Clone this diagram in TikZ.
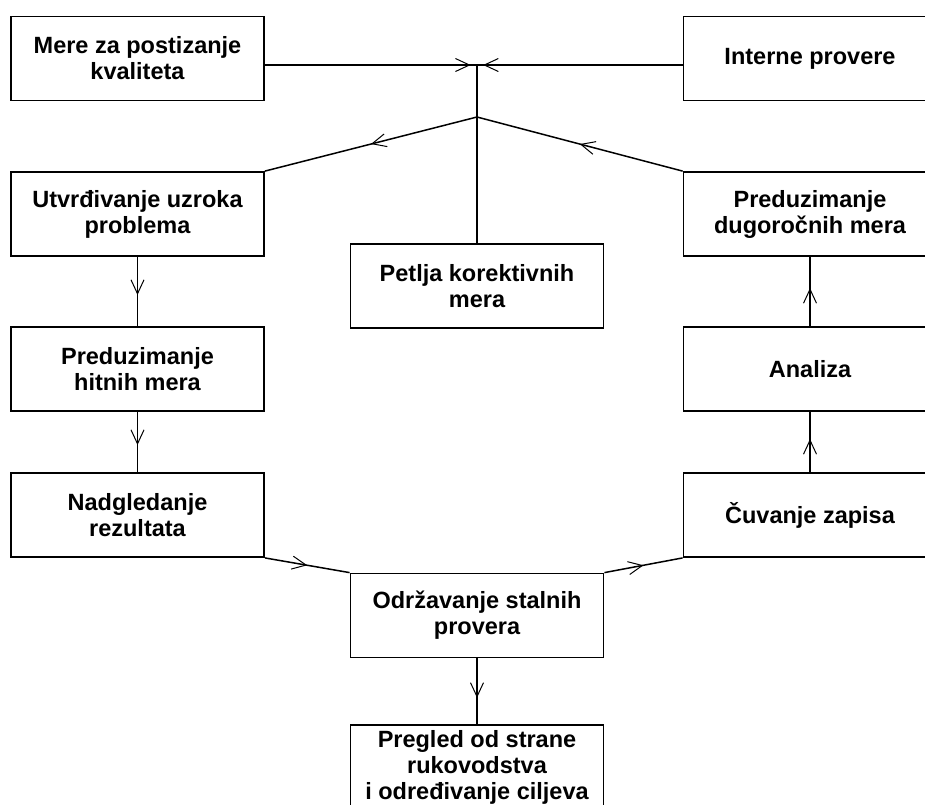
\documentclass[tikz,border=0pt]{standalone}
\usepackage{fontspec}
\setmainfont{Liberation Sans}
\usetikzlibrary{arrows.meta,decorations.markings}

\tikzset{
  box/.style={draw, line width=1.8pt, minimum width=253pt, minimum height=84pt,
    inner sep=1pt, align=center, font=\bfseries\fontsize{23.5}{26}\selectfont},
  link/.style={line width=1.5pt},
  flow/.style={link, postaction={decorate},
    decoration={markings, mark=at position #1 with
      {\arrow{Straight Barb[length=14pt,width=13pt,line width=1pt]}}}},
  flow/.default=0.5
}

\begin{document}
\begin{tikzpicture}[x=1pt,y=-1pt]
        \useasboundingbox (0,0) rectangle (925,804);
        \clip (0,0) rectangle (925,804);

        % Draw boxes
        \node[box] (mere) at (137.5,58.5) {Mere za postizanje\\kvaliteta};
        \node[box] (interne) at (810,58.5) {Interne provere};
        \node[box] (uzrok) at (137.5,214) {Utvrđivanje uzroka\\problema};
        \node[box] (dugorocne) at (810,214) {Preduzimanje\\dugoročnih mera};
        \node[box] (petlja) at (477,286) {Petlja korektivnih\\mera};
        \node[box] (hitne) at (137.5,369) {Preduzimanje\\hitnih mera};
        \node[box] (analiza) at (810,369) {Analiza};
        \node[box] (nadgled) at (137.5,515) {Nadgledanje\\rezultata};
        \node[box] (cuvanje) at (810,515) {Čuvanje zapisa};
        \node[box] (odrzav) at (477,615.5) {Održavanje stalnih\\provera};
        \node[box] (pregled) at (477,767) {Pregled od strane\\rukovodstva\\i određivanje ciljeva};

        % Draw junctions
        \coordinate (top) at (477,65);
        \coordinate (fork) at (477,117);

        % Draw the loop at the top
        \draw[flow=0.97] (mere.east |- top) -- (top);
        \draw[flow=0.97] (interne.west |- top) -- (top);
        \draw[link] (petlja.north) -- (top);
        \draw[flow] (fork) -- (uzrok.north east);
        \draw[flow] (dugorocne.north west) -- (fork);

        % Draw left column
        \draw[flow=0.55] (uzrok) -- (hitne);
        \draw[flow=0.55] (hitne) -- (nadgled);
        \draw[flow] (nadgled.south east) -- (odrzav.north west);

        % Draw right column
        \draw[flow] (odrzav.north east) -- (cuvanje.south west);
        \draw[flow=0.55] (cuvanje) -- (analiza);
        \draw[flow=0.55] (analiza) -- (dugorocne);

        % Draw bottom
        \draw[flow=0.6] (odrzav) -- (pregled);
    \end{tikzpicture}
\end{document}
